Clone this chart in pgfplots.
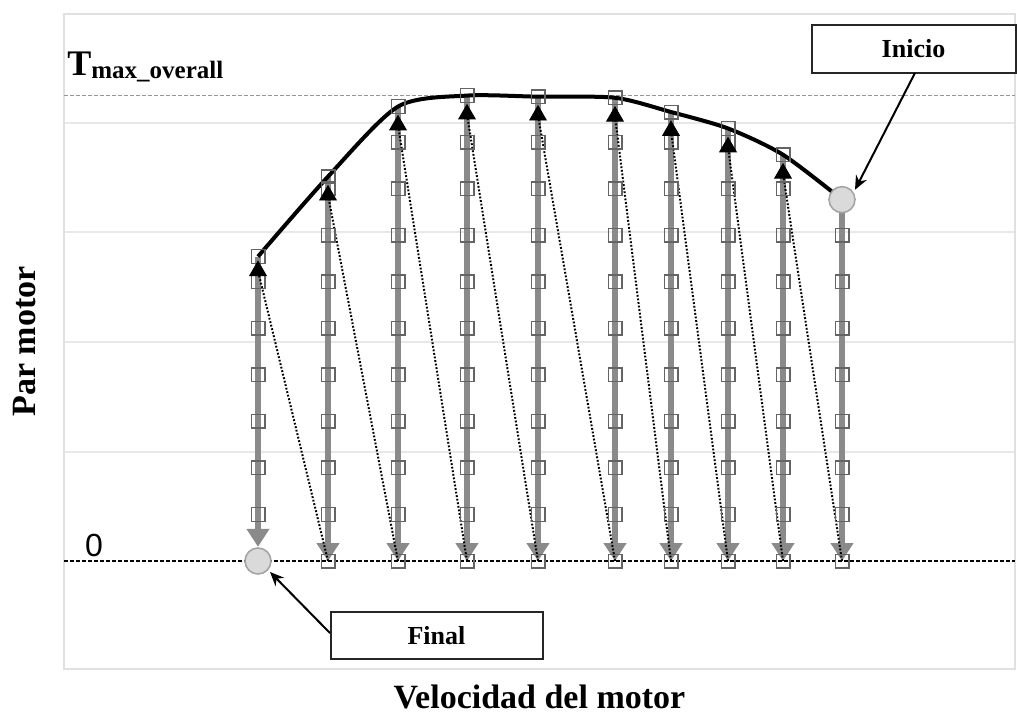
\documentclass[border=0pt]{standalone}
\usepackage{fontspec}
\setmainfont{Liberation Serif}
\newfontfamily\sansf{Liberation Sans}
\usepackage{pgfplots}
\usepackage{pgfplotstable}
\pgfplotsset{compat=1.18}
\usetikzlibrary{arrows.meta}
\definecolor{colgray}{RGB}{138,138,138}
\definecolor{markgray}{RGB}{100,100,100}
\definecolor{circfill}{RGB}{218,218,218}
\definecolor{circdraw}{RGB}{165,165,165}
\definecolor{framegray}{RGB}{224,224,224}
\definecolor{gridgray}{RGB}{232,232,232}
\definecolor{tmaxgray}{RGB}{150,150,150}

% top of every speed column (par maximo en cada velocidad)
\pgfplotstableread{
x top
1.94 2.78
2.64 3.51
3.34 4.15
4.03 4.25
4.74 4.24
5.51 4.23
6.07 4.10
6.64 3.95
7.19 3.71
7.78 3.30
}\topdata

\tikzset{
  col/.style={colgray, line width=3.1pt, -{Triangle[length=9pt,width=11pt]}},
  dots/.style={black, line width=1pt, dash pattern=on 0.9pt off 0.9pt},
}

\begin{document}
\begin{tikzpicture}
\useasboundingbox (-32pt,-23.5pt) rectangle (476.5pt,334.5pt);
\begin{axis}[
  scale only axis,
  width=475.5pt, height=327.5pt,
  xmin=0, xmax=9.51,
  ymin=-0.986, ymax=4.995,
  clip=false,
  axis line style={framegray, line width=1pt},
  xtick=\empty,
  ytick={1,2,3,4},
  yticklabels={},
  major tick length=0pt,
  ymajorgrids,
  major grid style={gridgray, line width=1pt},
  xlabel={Velocidad del motor},
  ylabel={Par motor},
  label style={font=\bfseries\fontsize{17}{20}\selectfont, inner sep=0pt},
  xlabel style={at={(axis description cs:0.5,-0.043)}, anchor=center},
  ylabel style={at={(axis description cs:-0.0415,0.5)}, anchor=center},
]
% T max overall and zero
\addplot[tmaxgray, line width=0.7pt, dash pattern=on 2pt off 1pt] coordinates {(0,4.25) (9.51,4.25)};
\addplot[black, line width=0.7pt, dash pattern=on 2pt off 1pt] coordinates {(0,0) (9.51,0)};

% operating points along each column
\addplot[only marks, mark=square, mark size=3.4pt, mark options={draw=markgray, line width=0.7pt}] coordinates {
(1.94,0.425)(1.94,0.85)(1.94,1.275)(1.94,1.7)(1.94,2.125)(1.94,2.55)(1.94,2.78)
(2.64,0)(2.64,0.425)(2.64,0.85)(2.64,1.275)(2.64,1.7)(2.64,2.125)(2.64,2.55)(2.64,2.975)(2.64,3.4)(2.64,3.51)
(3.34,0)(3.34,0.425)(3.34,0.85)(3.34,1.275)(3.34,1.7)(3.34,2.125)(3.34,2.55)(3.34,2.975)(3.34,3.4)(3.34,3.825)(3.34,4.15)
(4.03,0)(4.03,0.425)(4.03,0.85)(4.03,1.275)(4.03,1.7)(4.03,2.125)(4.03,2.55)(4.03,2.975)(4.03,3.4)(4.03,3.825)(4.03,4.25)
(4.74,0)(4.74,0.425)(4.74,0.85)(4.74,1.275)(4.74,1.7)(4.74,2.125)(4.74,2.55)(4.74,2.975)(4.74,3.4)(4.74,3.825)(4.74,4.24)
(5.51,0)(5.51,0.425)(5.51,0.85)(5.51,1.275)(5.51,1.7)(5.51,2.125)(5.51,2.55)(5.51,2.975)(5.51,3.4)(5.51,3.825)(5.51,4.23)
(6.07,0)(6.07,0.425)(6.07,0.85)(6.07,1.275)(6.07,1.7)(6.07,2.125)(6.07,2.55)(6.07,2.975)(6.07,3.4)(6.07,3.825)(6.07,4.10)
(6.64,0)(6.64,0.425)(6.64,0.85)(6.64,1.275)(6.64,1.7)(6.64,2.125)(6.64,2.55)(6.64,2.975)(6.64,3.4)(6.64,3.825)(6.64,3.95)
(7.19,0)(7.19,0.425)(7.19,0.85)(7.19,1.275)(7.19,1.7)(7.19,2.125)(7.19,2.55)(7.19,2.975)(7.19,3.4)(7.19,3.71)
(7.78,0)(7.78,0.425)(7.78,0.85)(7.78,1.275)(7.78,1.7)(7.78,2.125)(7.78,2.55)(7.78,2.975)
};

% gray columns, top to zero
\addplot[col] coordinates {(1.94,2.78) (1.94,0.13)};
\addplot[col] coordinates {(2.64,3.51) (2.64,0)};
\addplot[col] coordinates {(3.34,4.15) (3.34,0)};
\addplot[col] coordinates {(4.03,4.25) (4.03,0)};
\addplot[col] coordinates {(4.74,4.24) (4.74,0)};
\addplot[col] coordinates {(5.51,4.23) (5.51,0)};
\addplot[col] coordinates {(6.07,4.10) (6.07,0)};
\addplot[col] coordinates {(6.64,3.95) (6.64,0)};
\addplot[col] coordinates {(7.19,3.71) (7.19,0)};
\addplot[col] coordinates {(7.78,3.30) (7.78,0)};

% dotted returns: bottom of next column to top of this one
\addplot[dots] coordinates {(2.64,0) (1.94,2.65)};
\addplot[dots] coordinates {(3.34,0) (2.64,3.34)};
\addplot[dots] coordinates {(4.03,0) (3.34,3.98)};
\addplot[dots] coordinates {(4.74,0) (4.03,4.08)};
\addplot[dots] coordinates {(5.51,0) (4.74,4.07)};
\addplot[dots] coordinates {(6.07,0) (5.51,4.06)};
\addplot[dots] coordinates {(6.64,0) (6.07,3.93)};
\addplot[dots] coordinates {(7.19,0) (6.64,3.78)};
\addplot[dots] coordinates {(7.78,0) (7.19,3.54)};
\addplot[only marks, mark=triangle*, mark size=4.8pt, black] coordinates {
(1.94,2.65)(2.64,3.34)(3.34,3.98)(4.03,4.08)(4.74,4.07)(5.51,4.06)(6.07,3.93)(6.64,3.78)(7.19,3.54)};

% torque envelope
\addplot[black, line width=2pt, smooth, tension=0.45] table[x=x, y=top] {\topdata};

% start and end points
\addplot[only marks, mark=*, mark size=6.5pt, mark options={fill=circfill, draw=circdraw, line width=0.8pt}] coordinates {(1.94,0) (7.78,3.30)};

\node[anchor=base west, inner sep=0pt] at (axis cs:0.03,4.43)
  {\bfseries\fontsize{18}{20}\selectfont T\raisebox{-1.5pt}{\fontsize{12.5}{14}\selectfont max\_overall}};
\node[font=\sansf\fontsize{16}{18}\selectfont, inner sep=0pt] at (axis cs:0.30,0.14) {0};

\node[draw=black!85, line width=1pt, fill=white, minimum width=102pt, minimum height=24pt,
  font=\bfseries\fontsize{13}{15}\selectfont] at (axis cs:8.495,4.676) {Inicio};
\draw[black, line width=1pt, -{Stealth[length=7pt,width=6pt]}] (axis cs:8.51,4.457) -- (axis cs:7.91,3.39);
\node[draw=black!85, line width=1pt, fill=white, minimum width=106pt, minimum height=23.5pt,
  font=\bfseries\fontsize{13}{15}\selectfont] at (axis cs:3.725,-0.68) {Final};
\draw[black, line width=1pt, -{Stealth[length=7pt,width=6pt]}] (axis cs:2.66,-0.658) -- (axis cs:2.06,-0.10);
\end{axis}
\end{tikzpicture}
\end{document}
